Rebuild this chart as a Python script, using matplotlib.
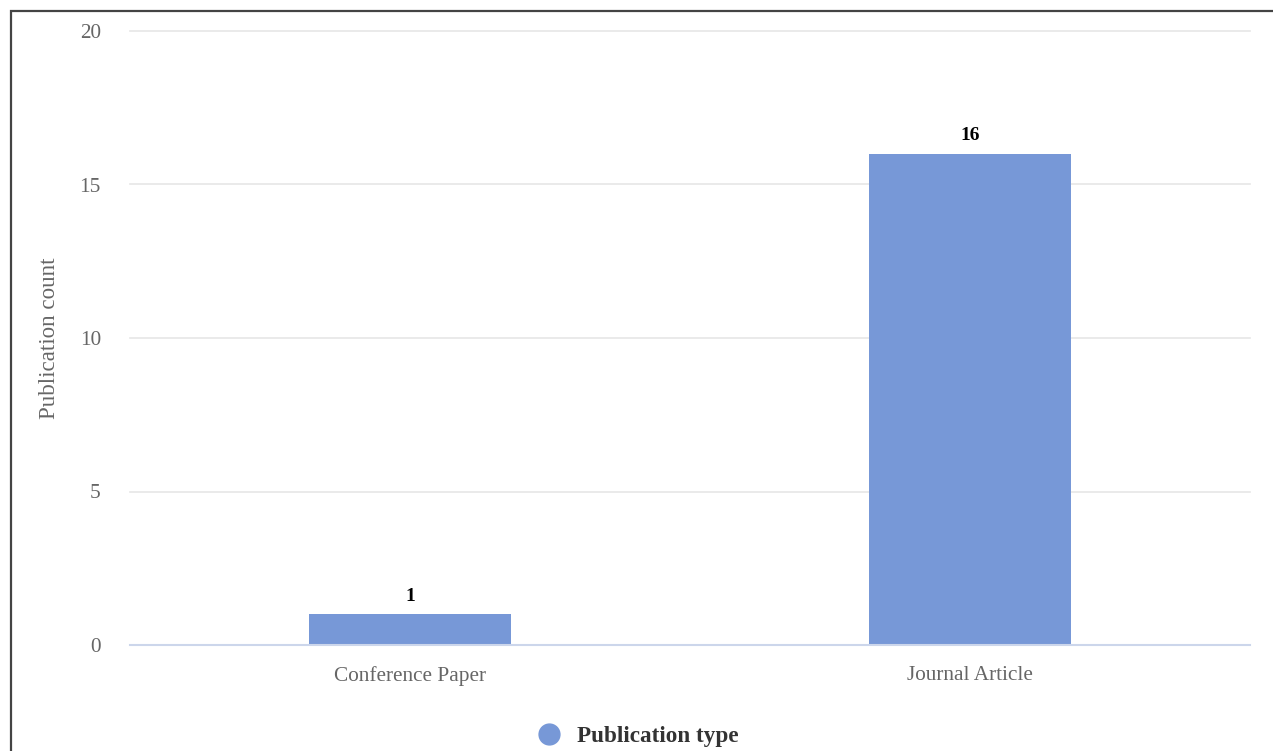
import matplotlib
matplotlib.use('Agg')
import matplotlib.pyplot as plt
from matplotlib.patches import Rectangle
from matplotlib.lines import Line2D

# Chart data
categories = ['Conference Paper', 'Journal Article']
counts = [1, 16]
yticks = [0, 5, 10, 15, 20]

BAR_COLOR = '#7798d7'
W, H = 1273, 751

plt.rcParams['font.family'] = ['Liberation Serif', 'DejaVu Serif']

fig = plt.figure(figsize=(W / 100, H / 100), dpi=100)
ax = fig.add_axes([130 / W, (H - 645) / H, 1120 / W, 614 / H])

x = range(len(categories))
bars = ax.bar(x, counts, width=0.36, color=BAR_COLOR, zorder=2)

# Value labels above bars
for b, v in zip(bars, counts):
    ax.annotate(str(v), (b.get_x() + b.get_width() / 2, v), xytext=(0, 7),
                textcoords='offset points', ha='center', va='bottom',
                fontsize=14, fontweight='bold', color='black')

ax.set_xlim(-0.5, len(categories) - 0.5)
ax.set_ylim(0, 20)
ax.set_yticks(yticks)
ax.set_xticks(list(x))
ax.set_xticklabels(categories)
ax.tick_params(axis='y', length=0, pad=21, labelsize=15.3, labelcolor='#666666')
ax.tick_params(axis='x', length=0, pad=15, labelsize=15.3, labelcolor='#666666')

ax.grid(axis='y', color='#e6e6e6', linewidth=1.2, zorder=0)
for gl in ax.get_ygridlines():
    gl.set_clip_on(False)
for s in ['top', 'right', 'left']:
    ax.spines[s].set_visible(False)
ax.spines['bottom'].set_color('#ccd6eb')
ax.spines['bottom'].set_linewidth(1.5)
ax.spines['bottom'].set_zorder(3)

ax.set_ylabel('Publication count', fontsize=16.6, color='#666666', va='center')
ax.yaxis.set_label_coords((50 - 130) / 1120, 0.5)

# Legend
handle = Line2D([], [], marker='o', linestyle='none', markersize=15,
                markerfacecolor=BAR_COLOR, markeredgecolor=BAR_COLOR)
fig.legend([handle], ['Publication type'], loc='center',
           bbox_to_anchor=(632 / W, (H - 736) / H), frameon=False,
           prop={'size': 16.7, 'weight': 'bold'}, labelcolor='#333333',
           handletextpad=0.2)

# Outer frame (only top and left visible in the crop)
fig.patches.append(Rectangle((10.5 / W, -0.1), 1.2, (H - 11.5) / H + 0.1,
                             transform=fig.transFigure, fill=False,
                             edgecolor='#444444', linewidth=1.6))

fig.savefig('out.png', dpi=100)
